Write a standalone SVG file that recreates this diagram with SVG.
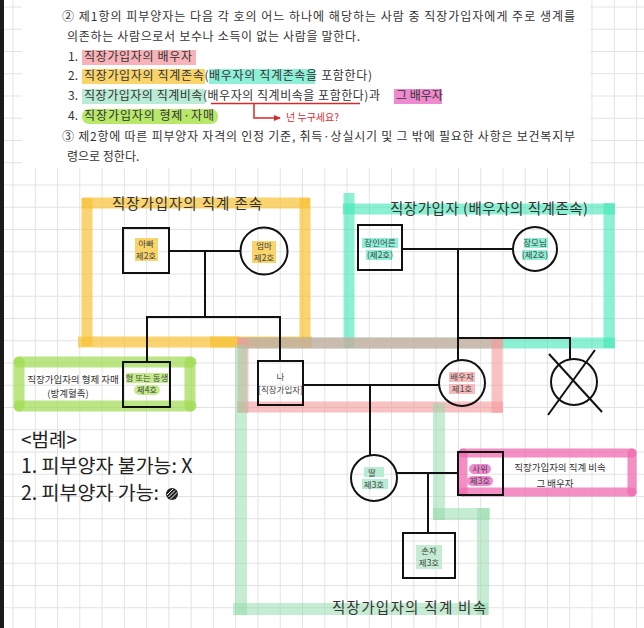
<svg xmlns="http://www.w3.org/2000/svg" width="644" height="628" viewBox="0 0 644 628">
<defs>
<pattern id="grid" patternUnits="userSpaceOnUse" x="12.5" y="6.5" width="22.27" height="22.25">
<path d="M0.5 0V22.25M0 0.5H22.27" stroke="#e2e2e2" stroke-width="1" fill="none"/>
</pattern>
<marker id="ra" markerWidth="8" markerHeight="8" refX="6" refY="4" orient="auto" markerUnits="userSpaceOnUse">
<path d="M0 1L7 4L0 7Z" fill="#d42a2a"/>
</marker>
<style>
.law{font-family:"Noto Sans CJK KR","Noto Sans",sans-serif;font-size:12px;fill:#333}
.lbl{font-family:"Noto Sans CJK KR","Noto Sans",sans-serif;fill:#333}
.nt{font-family:"Noto Sans CJK KR","Noto Sans",sans-serif;font-size:8.5px;fill:#444;text-anchor:middle}
.y{stroke:#f7c233;stroke-opacity:.7;stroke-width:11;fill:none}
.t{stroke:#3fe8b5;stroke-opacity:.6;stroke-width:11;fill:none}
.p{stroke:#f59a9a;stroke-opacity:.6;stroke-width:11;fill:none}
.g{stroke:#8ed9a8;stroke-opacity:.5;stroke-width:12;fill:none}
.l{stroke:#9edb4e;stroke-opacity:.7;stroke-width:11;stroke-linecap:round;fill:none}
.m{stroke:#f06ab0;stroke-opacity:.75;stroke-width:9;stroke-linecap:round;fill:none}
.n{fill:none;stroke:#111;stroke-width:2}
.c line{stroke:#111;stroke-width:2}
</style>
</defs>
<rect width="644" height="628" fill="#fff"/>
<rect width="644" height="628" fill="url(#grid)"/>
<rect x="22" y="0" width="568" height="168" fill="#fff"/>
<rect x="0" y="0" width="4" height="628" fill="#1a1a1a"/>

<g id="law-text">
<rect x="82" y="50" width="114" height="15" fill="#f7b3b8"/>
<rect x="82" y="69" width="123" height="15" fill="#f9d46a"/>
<rect x="209" y="69" width="106" height="15" fill="#8ff0d8"/>
<rect x="82" y="89" width="123" height="15" fill="#b9ecd5"/>
<rect x="394" y="89" width="48" height="15" fill="#f08ad0"/>
<rect x="82" y="109" width="136" height="15" rx="7" fill="#b8e86a"/>
<text class="law" x="62" y="21" textLength="513">② 제1항의 피부양자는 다음 각 호의 어느 하나에 해당하는 사람 중 직장가입자에게 주로 생계를</text>
<text class="law" x="67" y="41" textLength="293">의존하는 사람으로서 보수나 소득이 없는 사람을 말한다.</text>
<text class="law" x="68" y="61">1.</text>
<text class="law" x="84" y="61" textLength="108">직장가입자의 배우자</text>
<text class="law" x="68" y="80">2.</text>
<text class="law" x="84" y="80" textLength="288">직장가입자의 직계존속(배우자의 직계존속을 포함한다)</text>
<text class="law" x="68" y="100">3.</text>
<text class="law" x="84" y="100" textLength="296">직장가입자의 직계비속(배우자의 직계비속을 포함한다)과</text>
<text class="law" x="396" y="100">그 배우자</text>
<text class="law" x="68" y="120">4.</text>
<text class="law" x="84" y="120" textLength="130">직장가입자의 형제·자매</text>
<text class="law" x="62" y="141" textLength="513">③ 제2항에 따른 피부양자 자격의 인정 기준, 취득·상실시기 및 그 밖에 필요한 사항은 보건복지부</text>
<text class="law" x="67" y="161">령으로 정한다.</text>
<line x1="211" y1="103.5" x2="360" y2="103.5" stroke="#d42a2a" stroke-width="1.5"/>
<path d="M254 104V118H280" fill="none" stroke="#d42a2a" stroke-width="1.5" marker-end="url(#ra)"/>
<text class="lbl" x="286" y="121" font-size="10" style="fill:#d42a2a">넌 누구세요?</text>
</g>

<g id="brackets">
<line class="y" x1="82" y1="203" x2="310" y2="203"/>
<line class="y" x1="87" y1="198" x2="87" y2="346"/>
<line class="y" x1="305" y1="198" x2="305" y2="348"/>
<line class="y" x1="78" y1="342" x2="240" y2="342"/>
<line class="y" x1="210" y1="342" x2="312" y2="342"/>
<line class="t" x1="343" y1="209" x2="615" y2="209"/>
<line class="t" x1="349" y1="193" x2="349" y2="348"/>
<line class="t" x1="609" y1="203" x2="609" y2="348"/>
<line class="t" x1="240" y1="343" x2="615" y2="343"/>
<line class="p" x1="243" y1="338" x2="243" y2="413"/>
<line class="p" x1="237" y1="407" x2="503" y2="407"/>
<line class="p" x1="497" y1="338" x2="497" y2="413"/>
<line class="p" x1="237" y1="343" x2="503" y2="343"/>
<line class="g" x1="241" y1="345" x2="241" y2="615"/>
<line class="g" x1="233" y1="609" x2="488" y2="609"/>
<line class="g" x1="483" y1="508" x2="483" y2="615"/>
<line class="g" x1="433" y1="514" x2="490" y2="514"/>
<line class="g" x1="439" y1="403" x2="439" y2="520"/>
<line class="l" x1="19" y1="362" x2="191" y2="362"/>
<line class="l" x1="19" y1="406" x2="191" y2="406"/>
<line class="l" x1="19" y1="362" x2="19" y2="406"/>
<line class="l" x1="190" y1="362" x2="190" y2="406"/>
<line class="m" x1="463" y1="453" x2="632" y2="453"/>
<line class="m" x1="463" y1="492" x2="632" y2="492"/>
<line class="m" x1="463" y1="453" x2="463" y2="492"/>
<line class="m" x1="632" y1="453" x2="632" y2="492"/>
</g>

<g id="labels">
<text class="lbl" x="112" y="209" font-size="14.5" textLength="150">직장가입자의 직계 존속</text>
<text class="lbl" x="390" y="214" font-size="14.5" textLength="198">직장가입자 (배우자의 직계존속)</text>
<text class="lbl" x="332" y="613" font-size="14.5" textLength="154">직장가입자의 직계 비속</text>
<text class="lbl" x="73" y="383" font-size="9.5" text-anchor="middle">직장가입자의 형제 자매</text>
<text class="lbl" x="68" y="397" font-size="9.5" text-anchor="middle">(방계혈족)</text>
<text class="lbl" x="560" y="471" font-size="9.5" text-anchor="middle">직장가입자의 직계 비속</text>
<text class="lbl" x="555" y="487" font-size="9.5" text-anchor="middle">그 배우자</text>
</g>

<g id="legend">
<text class="lbl" x="21" y="447" font-size="19" style="fill:#222">&lt;범례&gt;</text>
<text class="lbl" x="21" y="473" font-size="19.5" style="fill:#222">1. 피부양자 불가능: X</text>
<text class="lbl" x="21" y="500" font-size="19.5" style="fill:#222">2. 피부양자 가능:</text>
<circle cx="172" cy="494" r="6" fill="#222"/>
<path d="M168.5 497L175 490.5M170.5 499L177 492.5M167 495L173 489" stroke="#fff" stroke-width="1"/>
</g>

<g id="connectors" class="c">
<line x1="169" y1="251" x2="240" y2="251"/>
<line x1="205" y1="251" x2="205" y2="317"/>
<line x1="146" y1="317" x2="281" y2="317"/>
<line x1="147" y1="317" x2="147" y2="362"/>
<line x1="280" y1="317" x2="280" y2="361"/>
<line x1="402" y1="249" x2="513" y2="249"/>
<line x1="458" y1="249" x2="458" y2="361"/>
<line x1="457" y1="338" x2="571" y2="338"/>
<line x1="570" y1="338" x2="570" y2="359"/>
<line x1="303" y1="385" x2="439" y2="385"/>
<line x1="370" y1="385" x2="370" y2="455"/>
<line x1="397" y1="473" x2="458" y2="473"/>
<line x1="428" y1="473" x2="428" y2="533"/>
</g>

<g id="n-appa">
<rect x="135" y="238" width="23" height="23" fill="#f9d46a"/>
<rect class="n" x="123" y="228" width="46" height="45"/>
<text class="nt" x="146" y="247">아빠</text>
<text class="nt" x="146" y="259">제2호</text>
</g>
<g id="n-eomma">
<rect x="252" y="241" width="24" height="22" fill="#f9d46a"/>
<circle class="n" cx="264" cy="251" r="23.5"/>
<text class="nt" x="264" y="249">엄마</text>
<text class="nt" x="264" y="261">제2호</text>
</g>
<g id="n-jangin">
<rect x="362" y="238" width="36" height="10" fill="#8ff0d8"/>
<rect x="366" y="250" width="26" height="10" fill="#8ff0d8"/>
<rect class="n" x="358" y="225" width="44" height="45"/>
<text class="nt" x="380" y="246">장인어른</text>
<text class="nt" x="380" y="258">(제2호)</text>
</g>
<g id="n-jangmo">
<rect x="524" y="238" width="24" height="10" fill="#8ff0d8"/>
<rect x="522" y="250" width="26" height="10" fill="#8ff0d8"/>
<circle class="n" cx="535" cy="249" r="22"/>
<text class="nt" x="535" y="246">장모님</text>
<text class="nt" x="535" y="258">(제2호)</text>
</g>
<g id="n-sibling">
<rect x="126" y="373" width="42" height="10" fill="#c4ec8a"/>
<rect x="134" y="385" width="26" height="10" rx="5" fill="#c4ec8a"/>
<rect class="n" x="123" y="362" width="47" height="45"/>
<text class="nt" x="147" y="381">형 또는 동생</text>
<text class="nt" x="147" y="393">제4호</text>
</g>
<g id="n-me">
<rect class="n" x="258" y="361" width="45" height="44"/>
<text class="nt" x="280.5" y="380">나</text>
<text class="nt" x="280.5" y="393">[직장가입자]</text>
</g>
<g id="n-spouse">
<rect x="449" y="372" width="26" height="10" fill="#f8bcbc"/>
<rect x="449" y="384" width="26" height="10" fill="#f8bcbc"/>
<circle class="n" cx="462" cy="383" r="23"/>
<text class="nt" x="462" y="380">배우자</text>
<text class="nt" x="462" y="392">제1호</text>
</g>
<g id="n-x">
<circle class="n" cx="574" cy="382" r="23"/>
<line x1="549" y1="354" x2="602" y2="412" stroke="#111" stroke-width="2"/>
<line x1="595" y1="350" x2="548" y2="415" stroke="#111" stroke-width="2"/>
</g>
<g id="n-daughter">
<rect x="364" y="467" width="20" height="10" fill="#b9ecd5"/>
<rect x="362" y="479" width="26" height="10" fill="#b9ecd5"/>
<circle class="n" cx="374" cy="478" r="23"/>
<text class="nt" x="372" y="476">딸</text>
<text class="nt" x="374" y="488">제3호</text>
</g>
<g id="n-soninlaw">
<rect x="469" y="464" width="22" height="10" rx="5" fill="#f08ad0"/>
<rect x="467" y="476" width="26" height="10" rx="5" fill="#f08ad0"/>
<rect class="n" x="458" y="452" width="45" height="43"/>
<text class="nt" x="480" y="472">사위</text>
<text class="nt" x="480" y="484">제3호</text>
</g>
<g id="n-grandson">
<rect x="416" y="545" width="26" height="24" fill="#c5ecd3"/>
<rect class="n" x="403" y="533" width="52" height="45"/>
<text class="nt" x="429" y="554">손자</text>
<text class="nt" x="429" y="566">제3호</text>
</g>
</svg>
